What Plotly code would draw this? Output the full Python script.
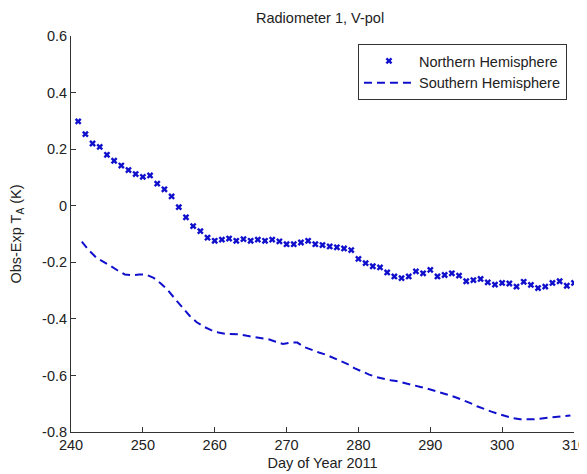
import plotly.graph_objects as go

# Northern Hemisphere: one value per day
north_day = list(range(241, 311))
north_val = [
    0.298, 0.253, 0.220, 0.208, 0.180, 0.159, 0.142, 0.126, 0.112, 0.102,
    0.107, 0.078, 0.058, 0.033, -0.005, -0.041, -0.072, -0.090, -0.113, -0.124,
    -0.120, -0.116, -0.124, -0.118, -0.124, -0.120, -0.124, -0.120, -0.126, -0.136,
    -0.136, -0.130, -0.124, -0.136, -0.139, -0.144, -0.147, -0.151, -0.157, -0.188,
    -0.203, -0.214, -0.218, -0.236, -0.250, -0.256, -0.250, -0.232, -0.239, -0.227,
    -0.250, -0.245, -0.239, -0.247, -0.267, -0.263, -0.259, -0.271, -0.279, -0.273,
    -0.275, -0.286, -0.269, -0.280, -0.291, -0.286, -0.273, -0.267, -0.283, -0.273,
]

# Southern Hemisphere: smoothed curve, sampled at half days
south_day = [d + 0.5 for d in range(241, 310)]
south_val = [
    -0.127, -0.158, -0.183, -0.197, -0.213, -0.229, -0.243, -0.246, -0.243, -0.244,
    -0.255, -0.275, -0.299, -0.330, -0.361, -0.389, -0.412, -0.428, -0.440, -0.448,
    -0.453, -0.455, -0.455, -0.460, -0.464, -0.467, -0.472, -0.481, -0.489, -0.484,
    -0.484, -0.500, -0.510, -0.519, -0.527, -0.538, -0.548, -0.560, -0.575, -0.587,
    -0.597, -0.606, -0.612, -0.617, -0.621, -0.628, -0.634, -0.640, -0.646, -0.653,
    -0.661, -0.669, -0.677, -0.686, -0.697, -0.709, -0.719, -0.728, -0.736, -0.743,
    -0.751, -0.755, -0.756, -0.755, -0.752, -0.750, -0.747, -0.744, -0.742,
]

x_ticks = [240, 250, 260, 270, 280, 290, 300, 310]
y_ticks = [-0.8, -0.6, -0.4, -0.2, 0, 0.2, 0.4, 0.6]
y_labels = ["-0.8", "-0.6", "-0.4", "-0.2", "0", "0.2", "0.4", "0.6"]

BLUE = "#1010cc"
AXIS = "#333333"
TEXT = "#222222"
FONT = "Liberation Sans, Arial, sans-serif"

fig = go.Figure()
fig.add_trace(go.Scatter(
    x=north_day, y=north_val, mode="markers", name="Northern Hemisphere",
    marker=dict(symbol="x", size=6, color=BLUE),
))
fig.add_trace(go.Scatter(
    x=south_day, y=south_val, mode="lines", name="Southern Hemisphere",
    line=dict(color=BLUE, width=2, dash="8px,5px"),
))

axis_common = dict(
    showgrid=False, zeroline=False, showline=True, linecolor=AXIS, linewidth=1,
    ticks="inside", ticklen=5, tickcolor=AXIS, mirror=False, automargin=False,
    tickfont=dict(size=14.5, color=TEXT),
)
fig.update_xaxes(range=[240, 310], tickvals=x_ticks,
                 title=dict(text="Day of Year 2011", font=dict(size=14.5, color=TEXT), standoff=5),
                 **axis_common)
fig.update_yaxes(range=[-0.8, 0.6], tickvals=y_ticks, ticktext=y_labels,
                 title=dict(text="Obs-Exp T<sub>A</sub> (K)", font=dict(size=14.5, color=TEXT), standoff=17),
                 **axis_common)

# the page body has an 8px margin, so the figure is a bit smaller than the window
fig.update_layout(
    width=579, height=466,
    margin=dict(l=63, r=13, t=28, b=42),
    paper_bgcolor="white", plot_bgcolor="white",
    font=dict(family=FONT, size=14.5, color=TEXT),
    title=dict(text="Radiometer 1, V-pol", x=0.539, xanchor="center", y=0.978, yanchor="middle",
               font=dict(size=14.5, color=TEXT)),
    legend=dict(x=0.986, y=0.98, xanchor="right", yanchor="top",
                bordercolor=AXIS, borderwidth=1, bgcolor="white",
                itemwidth=50, font=dict(size=14.5)),
    showlegend=True,
)

fig.write_html("out.html")
